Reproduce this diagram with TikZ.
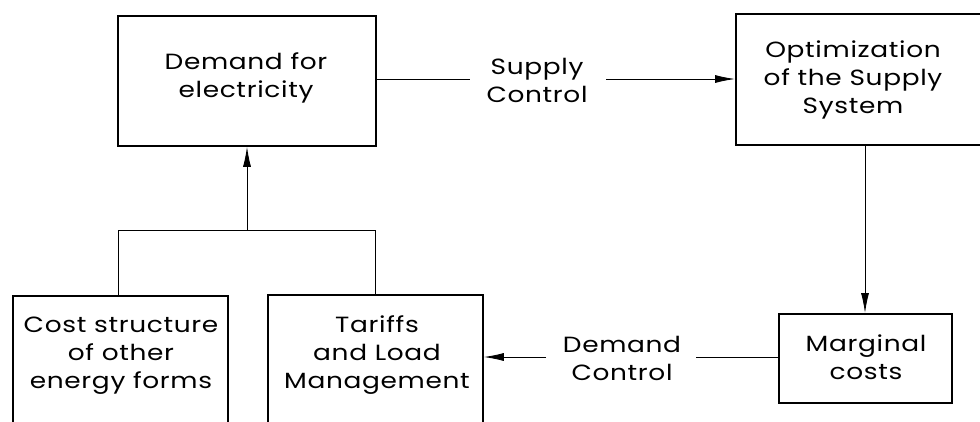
\documentclass[tikz,border=0pt]{standalone}
\usepackage{fontspec}
\setmainfont{Poppins}[FakeStretch=1.2,LetterSpace=3]
\usetikzlibrary{arrows.meta}
\begin{document}
\begin{tikzpicture}[x=1pt,y=-1pt,
  box/.style={draw,line width=1.8pt,inner sep=0pt,anchor=north west},
  lbl/.style={font=\fontsize{22}{28}\selectfont,align=center,inner sep=0pt},
  link/.style={line width=0.9pt},
  arr/.style={link,-{Latex[length=20pt,width=8pt]}}]
\useasboundingbox (0,0) rectangle (980,421);
\clip (0,0) rectangle (980,421);

% boxes
\node[box,minimum width=258pt,minimum height=130pt] (dem) at (117,15) {};
\node[box,minimum width=270pt,minimum height=131pt] (opt) at (735,13) {};
\node[box,minimum width=173pt,minimum height=89pt] (mar) at (778,313) {};
\node[box,minimum width=215pt,minimum height=160pt] (cost) at (12,295) {};
\node[box,minimum width=215pt,minimum height=160pt] (tar) at (267,294) {};

% box texts
\node[lbl] (demt) at (246,78) {Demand for\\electricity};
\node[lbl] (optt) at (853,80) {Optimization\\of the Supply\\System};
\node[lbl] (mart) at (866,357) {Marginal\\costs};
\node[lbl] (costt) at (121,356) {Cost structure\\of other\\energy forms};
\node[lbl] (tart) at (377,355) {Tariffs\\and Load\\Management};

% connector labels
\node[lbl] (sup) at (537,80) {Supply\\Control};
\node[lbl] (dctl) at (622,358) {Demand\\Control};

% supply control
\coordinate (s1) at (470,79);
\coordinate (s2) at (606,79);
\draw[link] (dem.east |- s1) -- (s1);
\draw[arr] (s2) -- (opt.west |- s2);

% optimization to marginal costs
\coordinate (v) at (865,0);
\draw[arr] (opt.south -| v) -- (mar.north -| v);

% demand control
\coordinate (d1) at (696,357);
\coordinate (d2) at (546,357);
\draw[link] (mar.west |- d1) -- (d1);
\draw[arr] (d2) -- (tar.east |- d2);

% bracket feeding demand
\coordinate (bl) at (118,230);
\coordinate (br) at (375,230);
\coordinate (bm) at (247,230);
\draw[link] (cost.north -| bl) -- (bl) -- (br) -- (tar.north -| br);
\draw[arr] (bm) -- (dem.south -| bm);
\end{tikzpicture}
\end{document}
